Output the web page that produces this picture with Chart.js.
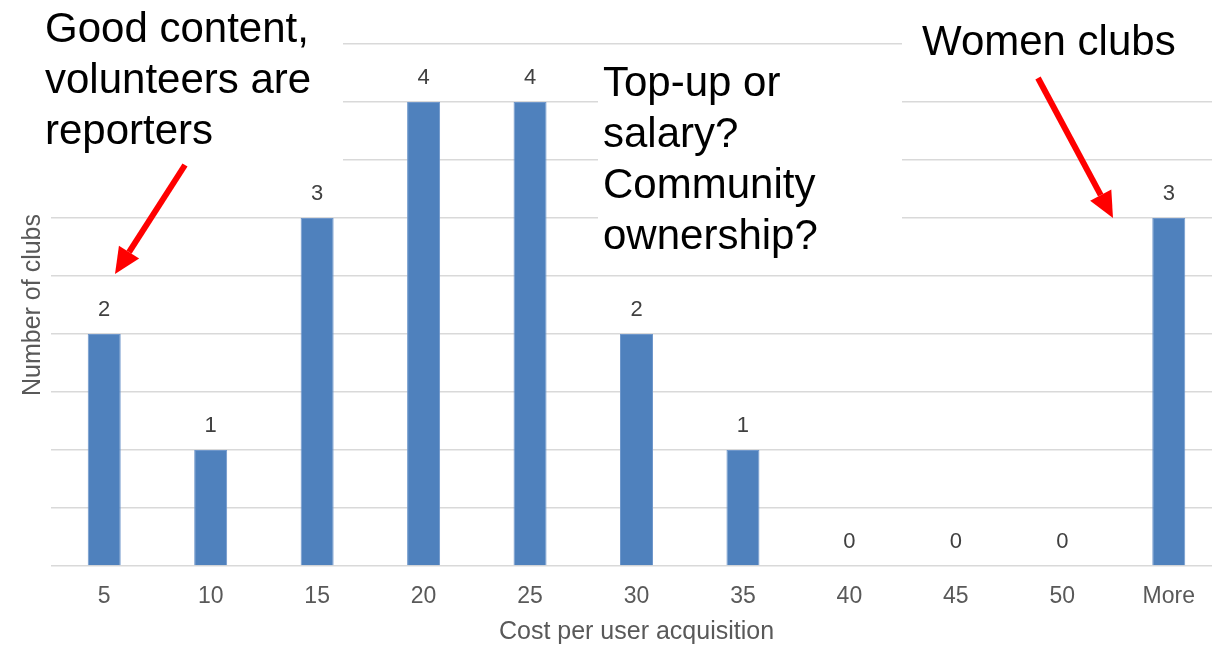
<!DOCTYPE html>
<html>
<head>
<meta charset="utf-8">
<script src="https://cdn.jsdelivr.net/npm/chart.js@4/dist/chart.umd.min.js"></script>
<style>
  html, body { margin: 0; padding: 0; background: #fff; overflow: hidden; }
  #wrap { position: relative; width: 1222px; height: 647px; }
</style>
</head>
<body>
<div id="wrap"><canvas id="chart"></canvas></div>
<script>
const costBuckets = ['5', '10', '15', '20', '25', '30', '35', '40', '45', '50', 'More'];
const clubCounts = [2, 1, 3, 4, 4, 2, 1, 0, 0, 0, 3];
const yTicks = { min: 0, max: 4.5, step: 0.5 };

const notes = [
  { lines: ['Good content,', 'volunteers are', 'reporters'], x: 45, y: 42, box: [0, 0, 343, 176],
    arrow: [185, 165, 115, 274] },
  { lines: ['Top-up or', 'salary?', 'Community', 'ownership?'], x: 603, y: 96, box: [598, 58, 304, 204] },
  { lines: ['Women clubs'], x: 922, y: 55, box: [902, 0, 320, 75],
    arrow: [1038, 78, 1113, 218] },
];

const FONT = '"Liberation Sans", Arial, sans-serif';

// value labels above each bar
const barLabels = {
  id: 'barLabels',
  afterDatasetsDraw(chart) {
    const ctx = chart.ctx;
    const meta = chart.getDatasetMeta(0);
    ctx.save();
    ctx.font = '22px ' + FONT;
    ctx.fillStyle = '#404040';
    ctx.textAlign = 'center';
    ctx.textBaseline = 'middle';
    meta.data.forEach((bar, i) => {
      ctx.fillText(String(clubCounts[i]), bar.x, bar.y - 24);
    });
    ctx.restore();
  }
};

function arrow(ctx, x0, y0, x1, y1) {
  const ang = Math.atan2(y1 - y0, x1 - x0);
  const headLen = 26, headW = 12;
  const bx = x1 - Math.cos(ang) * headLen, by = y1 - Math.sin(ang) * headLen;
  ctx.strokeStyle = '#ff0000';
  ctx.fillStyle = '#ff0000';
  ctx.lineWidth = 6;
  ctx.beginPath();
  ctx.moveTo(x0, y0);
  ctx.lineTo(bx, by);
  ctx.stroke();
  ctx.beginPath();
  ctx.moveTo(x1, y1);
  ctx.lineTo(bx + Math.sin(ang) * headW, by - Math.cos(ang) * headW);
  ctx.lineTo(bx - Math.sin(ang) * headW, by + Math.cos(ang) * headW);
  ctx.closePath();
  ctx.fill();
}

// white boxes behind the callouts hide the gridlines, text and arrows go on top
const callouts = {
  id: 'callouts',
  beforeDatasetsDraw(chart) {
    const ctx = chart.ctx;
    ctx.save();
    ctx.fillStyle = '#fff';
    notes.forEach(n => ctx.fillRect(...n.box));
    ctx.restore();
  },
  afterDraw(chart) {
    const ctx = chart.ctx;
    ctx.save();
    ctx.font = '42px ' + FONT;
    ctx.textAlign = 'left';
    ctx.textBaseline = 'alphabetic';
    notes.forEach(n => {
      ctx.fillStyle = '#000';
      n.lines.forEach((t, i) => ctx.fillText(t, n.x, n.y + i * 51));
      if (n.arrow) arrow(ctx, ...n.arrow);
    });
    ctx.restore();
  }
};

new Chart(document.getElementById('chart'), {
  type: 'bar',
  data: {
    labels: costBuckets,
    datasets: [{
      label: 'Number of clubs',
      data: clubCounts,
      backgroundColor: '#4f81bd',
      borderColor: '#6f97cb',
      borderWidth: 1,
      barPercentage: 0.31,
      categoryPercentage: 1,
    }]
  },
  options: {
    responsive: true,
    maintainAspectRatio: false,
    animation: false,
    layout: { padding: { top: 44, right: 0, bottom: 0, left: 0 } },
    plugins: { legend: { display: false }, tooltip: { enabled: false } },
    scales: {
      x: {
        grid: { display: false },
        border: { display: false },
        ticks: { color: '#595959', font: { family: FONT, size: 23 }, padding: 9 },
        title: {
          display: true, text: 'Cost per user acquisition', color: '#595959',
          font: { family: FONT, size: 25 }, padding: { top: 0, bottom: 0 }
        },
        afterFit(s) { s.height = 81; }
      },
      y: {
        min: yTicks.min,
        max: yTicks.max,
        grid: { color: '#d9d9d9', lineWidth: 1.6, drawTicks: false },
        border: { display: false },
        ticks: { display: false, stepSize: yTicks.step },
        title: {
          display: true, text: 'Number of clubs', color: '#595959',
          font: { family: FONT, size: 25 }, padding: { top: 18, bottom: 0 }
        },
        afterFit(s) { s.width = 51; }
      }
    }
  },
  plugins: [barLabels, callouts]
});
</script>
</body>
</html>
